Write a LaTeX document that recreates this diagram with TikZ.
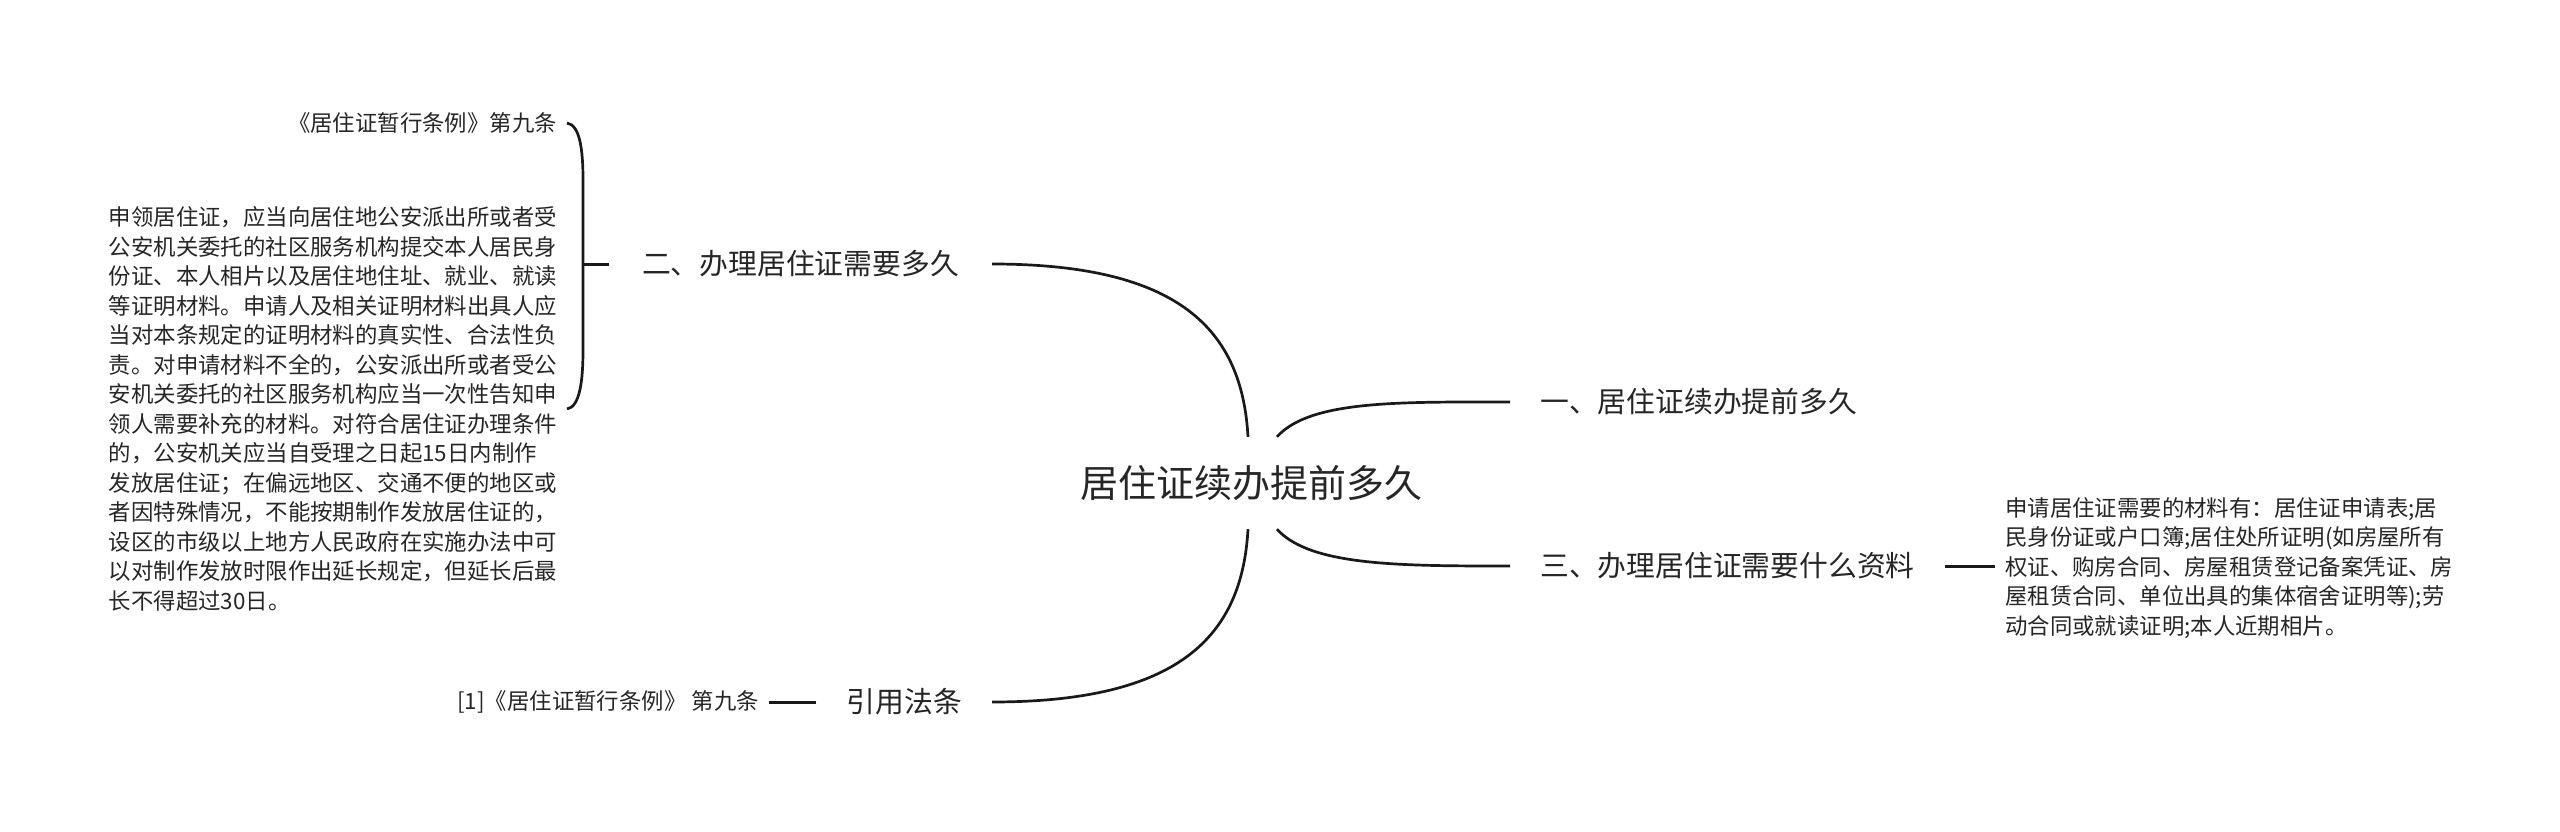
\documentclass[tikz,border=0pt]{standalone}
\usepackage{fontspec}
\setmainfont{Noto Sans CJK SC}
\usepackage{tikz}
\usetikzlibrary{positioning, calc}
\tikzset{
  mind/root/.style={font=\fontsize{38}{44}\selectfont, text=black!85,
    inner xsep=0pt, minimum height=92pt},
  mind/branch/.style={font=\fontsize{28.8}{34}\selectfont, text=black!85,
    inner xsep=30pt, inner ysep=4pt},
  mind/leaf/.style={font=\fontsize{22.4}{29.5}\selectfont, text=black!85,
    align=left, inner xsep=10pt, inner ysep=2pt},
  mind/curve/.style={line width=2.7pt, black!90},
  mind/tick/.style={line width=3pt, black!90},
}

\begin{document}
\begin{tikzpicture}[x=1pt, y=-1pt]

% ── Canvas ──────────────────────────────────────────────
\path[fill=white] (0,0) rectangle (2560,832);
\useasboundingbox (0,0) rectangle (2560,832);

% ── Root ────────────────────────────────────────────────
\node[mind/root] (root) at (1251,483) {居住证续办提前多久};

% ── Branches ────────────────────────────────────────────
\node[mind/branch, anchor=east, inner xsep=33pt] (b2) at (992,264) {二、办理居住证需要多久};
\node[mind/branch, anchor=east] (b4) at (992,702) {引用法条};
\node[mind/branch, anchor=west] (b1) at (1510,402) {一、居住证续办提前多久};
\node[mind/branch, anchor=west] (b3) at (1510,566) {三、办理居住证需要什么资料};

\draw[mind/curve] ([xshift=-3pt]root.north)
  .. controls (1242,330) and (1180,264) .. (b2.east);
\draw[mind/curve] ([xshift=-3pt]root.south)
  .. controls (1242,636) and (1180,702) .. (b4.east);
\draw[mind/curve] ([xshift=26pt]root.north)
  .. controls (1310,400) and (1400,402) .. (b1.west);
\draw[mind/curve] ([xshift=26pt]root.south)
  .. controls (1310,566) and (1400,566) .. (b3.west);

% ── Branch 2: two leaves under a brace ──────────────────
\node[mind/leaf, anchor=east] (l1) at (567,123) {《居住证暂行条例》第九条};
\node[mind/leaf, anchor=east] (l2) at (567,409)
  {申领居住证，应当向居住地公安派出所或者受\\
   公安机关委托的社区服务机构提交本人居民身\\
   份证、本人相片以及居住地住址、就业、就读\\
   等证明材料。申请人及相关证明材料出具人应\\
   当对本条规定的证明材料的真实性、合法性负\\
   责。对申请材料不全的，公安派出所或者受公\\
   安机关委托的社区服务机构应当一次性告知申\\
   领人需要补充的材料。对符合居住证办理条件\\
   的，公安机关应当自受理之日起15日内制作\\
   发放居住证；在偏远地区、交通不便的地区或\\
   者因特殊情况，不能按期制作发放居住证的，\\
   设区的市级以上地方人民政府在实施办法中可\\
   以对制作发放时限作出延长规定，但延长后最\\
   长不得超过30日。};

\coordinate (brace) at (583,264);
\draw[mind/curve] (l1.east) .. controls (580,125) and (583,150) .. (583,180)
  -- (583,350) .. controls (583,380) and (580,407) .. (l2.east);
\draw[mind/tick] (brace) -- (b2.west);

% ── Branch 3: materials ─────────────────────────────────
\node[mind/leaf, anchor=west] (r1) at (1995,568)
  {申请居住证需要的材料有：居住证申请表;居\\
   民身份证或户口簿;居住处所证明(如房屋所有\\
   权证、购房合同、房屋租赁登记备案凭证、房\\
   屋租赁合同、单位出具的集体宿舍证明等);劳\\
   动合同或就读证明;本人近期相片。};
\draw[mind/tick] (b3.east) -- (b3.east -| r1.west);

% ── Branch 4: citation ──────────────────────────────────
\node[mind/leaf, anchor=east] (l4) at (769,702) {[1]《居住证暂行条例》 第九条};
\draw[mind/tick] (b4.west) -- (b4.west -| l4.east);

\end{tikzpicture}
\end{document}
